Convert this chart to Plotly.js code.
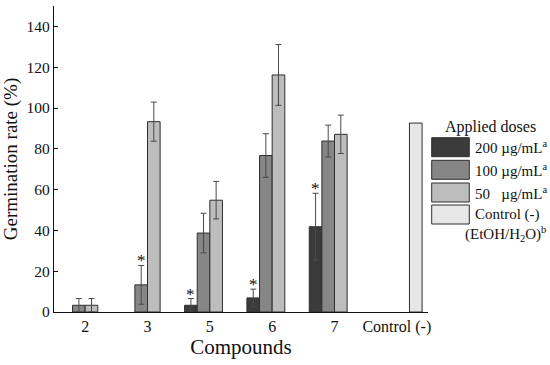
<!DOCTYPE html>
<html>
<head>
<meta charset="utf-8">
<script src="https://cdn.plot.ly/plotly-3.0.1.min.js"></script>
<style>
  html, body { margin: 0; padding: 0; background: #fff; }
  #chart { width: 550px; height: 365px; }
</style>
</head>
<body>
<div id="chart"></div>
<script>
// ---- data ----
const categories = ['2', '3', '5', '6', '7', 'Control (-)'];
const dose200 = [null, null, 3.3, 6.9, 41.8, null];
const err200  = [0, 0, 3.3, 4.3, 16.4, 0];
const dose100 = [3.3, 13.3, 38.7, 76.7, 83.8, null];
const err100  = [3.3, 9.5, 9.7, 10.7, 7.8, 0];
const dose50  = [3.3, 93.3, 54.8, 116.2, 87.1, null];
const err50   = [3.3, 9.6, 9.2, 14.9, 9.4, 0];
const control = [null, null, null, null, null, 92.6];
const sig200  = [false, false, true, true, true, false];
const sig100  = [false, true, false, false, false, false];
const yTicks  = [0, 20, 40, 60, 80, 100, 120, 140];

const legendLabels = ['200 µg/mL<sup>a</sup>', '100 µg/mL<sup>a</sup>', '50\u00a0\u00a0 µg/mL<sup>a</sup>', 'Control (-)'];
const colors = ['#3b3b3b', '#868686', '#bdbdbd', '#e7e7e7'];

const FONT = 'Liberation Serif';
const bargap = 0.19;
const barW = (1 - bargap) / 4;

function barTrace(y, err, k) {
  const t = {
    type: 'bar', x: categories, y: y, name: legendLabels[k],
    marker: { color: colors[k], line: { color: '#2e2e2e', width: 1 } },
    showlegend: false, hoverinfo: 'skip'
  };
  if (err) {
    t.error_y = { type: 'data', array: err, visible: true, color: '#4a4a4a', thickness: 1, width: 3 };
  }
  return t;
}

const data = [
  barTrace(dose200, err200, 0),
  barTrace(dose100, err100, 1),
  barTrace(dose50, err50, 2),
  barTrace(control, null, 3)
];

const M = { l: 54, r: 122, t: 6, b: 53 };
const PW = 550 - M.l - M.r, PH = 365 - M.t - M.b;
function px2paperX(px) { return (px - M.l) / PW; }
function px2paperY(py) { return (365 - M.b - py) / PH; }

// significance asterisks
const annotations = [];
function addStars(vals, errs, sig, k) {
  sig.forEach((s, i) => {
    if (!s) return;
    annotations.push({
      xref: 'x', yref: 'y', x: i + (k - 1.5) * barW, y: vals[i] + errs[i],
      text: '*', showarrow: false, yanchor: 'bottom', yshift: -7,
      font: { family: FONT, size: 17, color: '#111111' }
    });
  });
}
addStars(dose200, err200, sig200, 0);
addStars(dose100, err100, sig100, 1);

// custom legend
const legTops = [137.7, 160.3, 183, 205];
const swH = 19;
const shapes = legTops.map((top, k) => ({
  type: 'rect', xref: 'paper', yref: 'paper',
  x0: px2paperX(431.7), x1: px2paperX(469.3),
  y0: px2paperY(top + swH), y1: px2paperY(top),
  fillcolor: colors[k], line: { color: '#2e2e2e', width: 1 }
}));
annotations.push({
  xref: 'paper', yref: 'paper', x: px2paperX(490), y: px2paperY(127),
  text: 'Applied doses', showarrow: false, xanchor: 'center', yanchor: 'middle',
  font: { family: FONT, size: 16, color: '#111111' }
});
legendLabels.forEach((lab, k) => {
  annotations.push({
    xref: 'paper', yref: 'paper', x: px2paperX(473), y: px2paperY(legTops[k] + swH / 2),
    text: lab, showarrow: false, xanchor: 'left', yanchor: 'middle',
    font: { family: FONT, size: 15, color: '#111111' }
  });
});
annotations.push({
  xref: 'paper', yref: 'paper', x: px2paperX(505), y: px2paperY(234),
  text: '(EtOH/H<sub>2</sub>O)<sup>b</sup>', showarrow: false, xanchor: 'center', yanchor: 'middle',
  font: { family: FONT, size: 15, color: '#111111' }
});

const layout = {
  width: 550, height: 365,
  margin: M,
  paper_bgcolor: '#ffffff', plot_bgcolor: '#ffffff',
  barmode: 'group', bargap: bargap, bargroupgap: 0,
  font: { family: FONT, color: '#111111' },
  xaxis: {
    type: 'category', range: [-0.5, 5.5],
    showline: true, linecolor: '#111111', linewidth: 1.2,
    ticks: '', showgrid: false, zeroline: false,
    tickfont: { family: FONT, size: 16, color: '#111111' },
    title: { text: 'Compounds', font: { family: FONT, size: 21, color: '#111111' }, standoff: 1 }
  },
  yaxis: {
    range: [0, 150], tickvals: yTicks, ticktext: yTicks.map(String),
    showline: true, linecolor: '#111111', linewidth: 1.2,
    ticks: 'inside', ticklen: 4, tickcolor: '#111111',
    showgrid: false, zeroline: false,
    tickfont: { family: FONT, size: 15.5, color: '#111111' },
    title: { text: 'Germination rate (%)', font: { family: FONT, size: 19, color: '#111111' }, standoff: 5 }
  },
  shapes: shapes,
  annotations: annotations,
  showlegend: false
};

Plotly.newPlot('chart', data, layout, { displayModeBar: false, staticPlot: true });
</script>
</body>
</html>
